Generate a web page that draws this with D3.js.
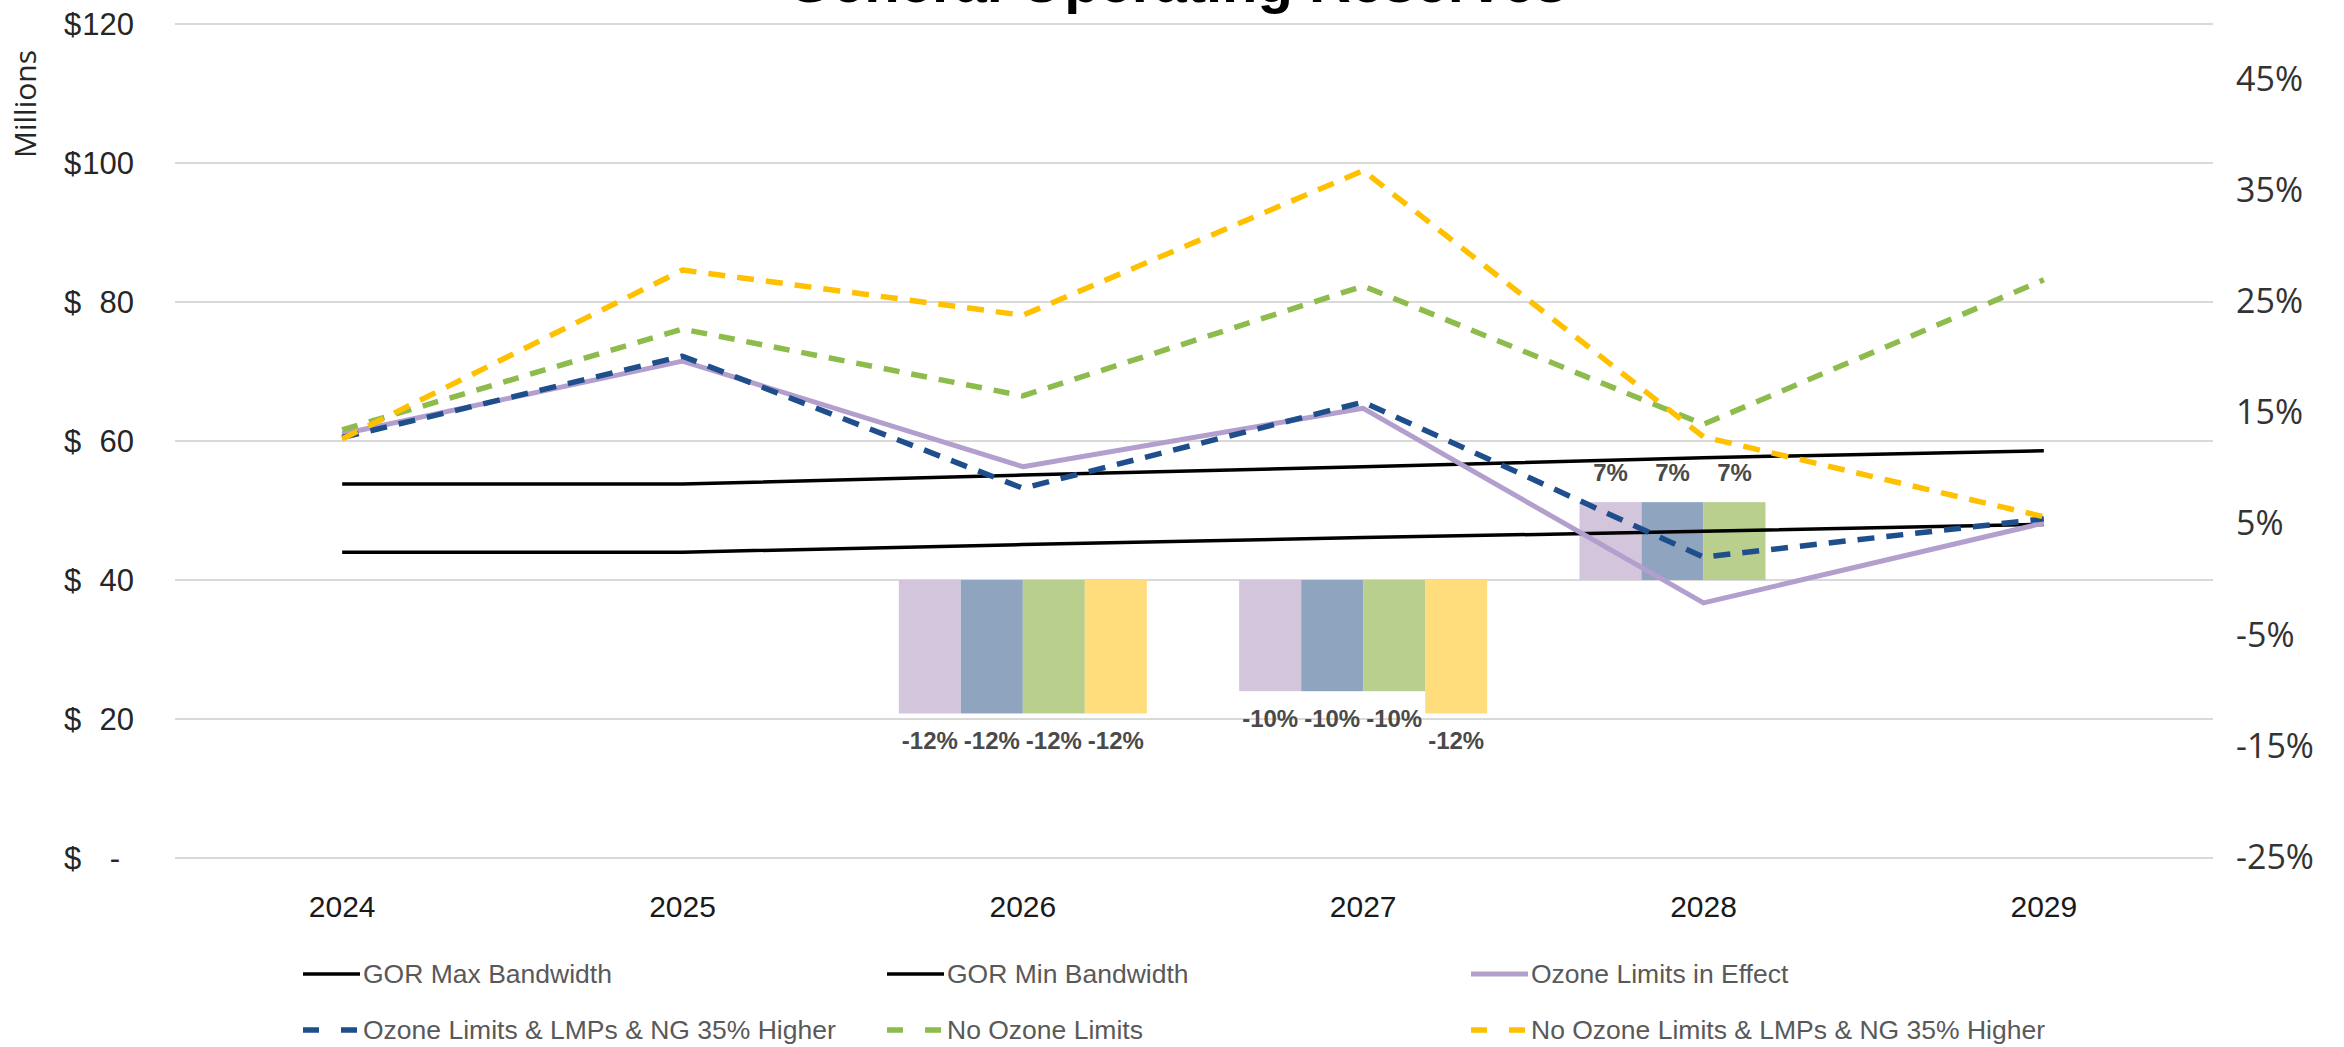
<!DOCTYPE html>
<html>
<head>
<meta charset="utf-8">
<script src="https://cdn.jsdelivr.net/npm/d3@7"></script>
<style>
  html, body { margin: 0; padding: 0; background: #fff; }
  svg { display: block; }
</style>
</head>
<body>
<svg id="chart" width="2344" height="1047"></svg>
<script>
// Categories
const years = ["2024", "2025", "2026", "2027", "2028", "2029"];

// Reserve levels, $ millions (left axis)
const gorMax       = [53.8, 53.8, 55.1, 56.3, 57.6, 58.6];
const gorMin       = [44.0, 44.0, 45.1, 46.1, 47.0, 48.0];
const ozoneEffect  = [61.0, 71.5, 56.3, 64.7, 36.7, 48.2];
const ozoneHigh    = [60.5, 72.2, 53.2, 65.6, 43.3, 48.8];
const noOzone      = [61.6, 76.1, 66.5, 82.3, 62.4, 83.2];
const noOzoneHigh  = [60.3, 84.6, 78.1, 98.9, 60.6, 49.1];

// Percentage bars (right axis)
const pctOzoneEffect = [null, null, -12, -10, 7, null];
const pctOzoneHigh   = [null, null, -12, -10, 7, null];
const pctNoOzone     = [null, null, -12, -10, 7, null];
const pctNoOzoneHigh = [null, null, -12, -12, null, null];

// Axis ticks
const leftTicks  = [0, 20, 40, 60, 80, 100, 120];
const rightTicks = [-25, -15, -5, 5, 15, 25, 35, 45];

const svg = d3.select("#chart");

const plot = { left: 172, right: 2214, top: 24, bottom: 858 };

const x = d3.scaleBand().domain(years).range([plot.left, plot.right]).padding(0);
const cx = d => x(d) + x.bandwidth() / 2;
const yL = d3.scaleLinear().domain([0, 120]).range([plot.bottom, plot.top]);
const yR = d3.scaleLinear().domain([-25, 50]).range([plot.bottom, plot.top]);

// Title (sits partly above the canvas)
svg.append("text")
  .attr("x", 1177).attr("y", 2)
  .attr("text-anchor", "middle")
  .attr("font-family", "'Liberation Sans', Arial, sans-serif")
  .attr("font-weight", "bold")
  .attr("font-size", 58)
  .attr("fill", "#000")
  .text("General Operating Reserves");

// Gridlines
svg.append("g").selectAll("line").data(leftTicks).join("line")
  .attr("x1", plot.left + 3).attr("x2", plot.right - 1)
  .attr("y1", d => yL(d)).attr("y2", d => yL(d))
  .attr("stroke", "#d9d9d9").attr("stroke-width", 2);

// Left axis labels in accounting style: "$" left, amount right
const leftAxis = svg.append("g")
  .attr("font-family", "'Liberation Sans', Arial, sans-serif")
  .attr("font-size", 31).attr("fill", "#262626");
leftAxis.selectAll("text.cur").data(leftTicks).join("text")
  .attr("class", "cur")
  .attr("x", 64).attr("y", d => yL(d)).attr("dy", "0.35em")
  .text("$");
leftAxis.selectAll("text.amt").data(leftTicks).join("text")
  .attr("class", "amt")
  .attr("text-anchor", "end")
  .attr("x", d => d === 0 ? 120 : 134).attr("y", d => yL(d)).attr("dy", "0.35em")
  .text(d => d === 0 ? "-" : d);

// Left axis title
svg.append("text")
  .attr("transform", "translate(36,104) rotate(-90)")
  .attr("text-anchor", "middle")
  .attr("font-family", "'Open Sans', sans-serif")
  .attr("font-size", 30).attr("fill", "#262626")
  .text("Millions");

// Right axis labels
svg.append("g").selectAll("text").data(rightTicks).join("text")
  .attr("x", 2236).attr("y", d => yR(d) - 1).attr("dy", "0.35em")
  .attr("font-family", "'Open Sans', sans-serif")
  .attr("font-size", 34).attr("fill", "#333")
  .text(d => d + "%");

// Category labels
svg.append("g").selectAll("text").data(years).join("text")
  .attr("x", d => cx(d)).attr("y", 906).attr("dy", "0.35em")
  .attr("text-anchor", "middle")
  .attr("font-family", "'Liberation Sans', Arial, sans-serif")
  .attr("font-size", 30).attr("fill", "#1a1a1a")
  .text(d => d);

// Bars
const barSeries = [
  { key: "ozoneEffect",  values: pctOzoneEffect, color: "#d2c5dc" },
  { key: "ozoneHigh",    values: pctOzoneHigh,   color: "#8fa4bf" },
  { key: "noOzone",      values: pctNoOzone,     color: "#b9cf8e" },
  { key: "noOzoneHigh",  values: pctNoOzoneHigh, color: "#ffdc7c" }
];
const groupWidth = 248;
const xb = d3.scaleBand().domain(barSeries.map(s => s.key)).range([0, groupWidth]).padding(0);

const barData = [];
barSeries.forEach(s => {
  s.values.forEach((v, i) => {
    if (v !== null) barData.push({ year: years[i], key: s.key, value: v, color: s.color });
  });
});

const bars = svg.append("g");
bars.selectAll("rect").data(barData).join("rect")
  .attr("x", d => cx(d.year) - groupWidth / 2 + xb(d.key))
  .attr("width", xb.bandwidth())
  .attr("y", d => Math.min(yR(0), yR(d.value)))
  .attr("height", d => Math.abs(yR(d.value) - yR(0)))
  .attr("fill", d => d.color);

bars.selectAll("text").data(barData).join("text")
  .attr("x", d => cx(d.year) - groupWidth / 2 + xb(d.key) + xb.bandwidth() / 2)
  .attr("y", d => yR(d.value) + (d.value < 0 ? 27 : -30))
  .attr("dy", "0.35em")
  .attr("text-anchor", "middle")
  .attr("font-family", "'Liberation Sans', Arial, sans-serif")
  .attr("font-weight", "bold")
  .attr("font-size", 24).attr("fill", "#4a4a4a")
  .text(d => d.value + "%");

// Lines
const lineSeries = [
  { name: "GOR Max Bandwidth", values: gorMax, color: "#000000", width: 3.5, dash: null },
  { name: "GOR Min Bandwidth", values: gorMin, color: "#000000", width: 3.5, dash: null },
  { name: "Ozone Limits in Effect", values: ozoneEffect, color: "#b39fcd", width: 5, dash: null },
  { name: "Ozone Limits & LMPs & NG 35% Higher", values: ozoneHigh, color: "#1f4e8c", width: 5.5, dash: "17,12" },
  { name: "No Ozone Limits", values: noOzone, color: "#8dbb4c", width: 5.5, dash: "16,12" },
  { name: "No Ozone Limits & LMPs & NG 35% Higher", values: noOzoneHigh, color: "#ffc000", width: 5.5, dash: "17,12" }
];

const line = d3.line().x((d, i) => cx(years[i])).y(d => yL(d));

svg.append("g").selectAll("path").data(lineSeries).join("path")
  .attr("d", d => line(d.values))
  .attr("fill", "none")
  .attr("stroke", d => d.color)
  .attr("stroke-width", d => d.width)
  .attr("stroke-dasharray", d => d.dash)
  .attr("stroke-linejoin", "round");

// Legend: three columns, two rows
const legendCols = [303, 887, 1471];
const legendRows = [974, 1030];
const legend = svg.append("g");
lineSeries.forEach((s, i) => {
  const lx = legendCols[i % 3];
  const ly = legendRows[Math.floor(i / 3)];
  legend.append("line")
    .attr("x1", lx).attr("x2", lx + 57)
    .attr("y1", ly).attr("y2", ly)
    .attr("stroke", s.color)
    .attr("stroke-width", s.width)
    .attr("stroke-dasharray", s.dash ? "16,22" : null);
  legend.append("text")
    .attr("x", lx + 60).attr("y", ly).attr("dy", "0.35em")
    .attr("font-family", "'Liberation Sans', Arial, sans-serif")
    .attr("font-size", 26.5).attr("fill", "#595959")
    .text(s.name);
});
</script>
</body>
</html>
